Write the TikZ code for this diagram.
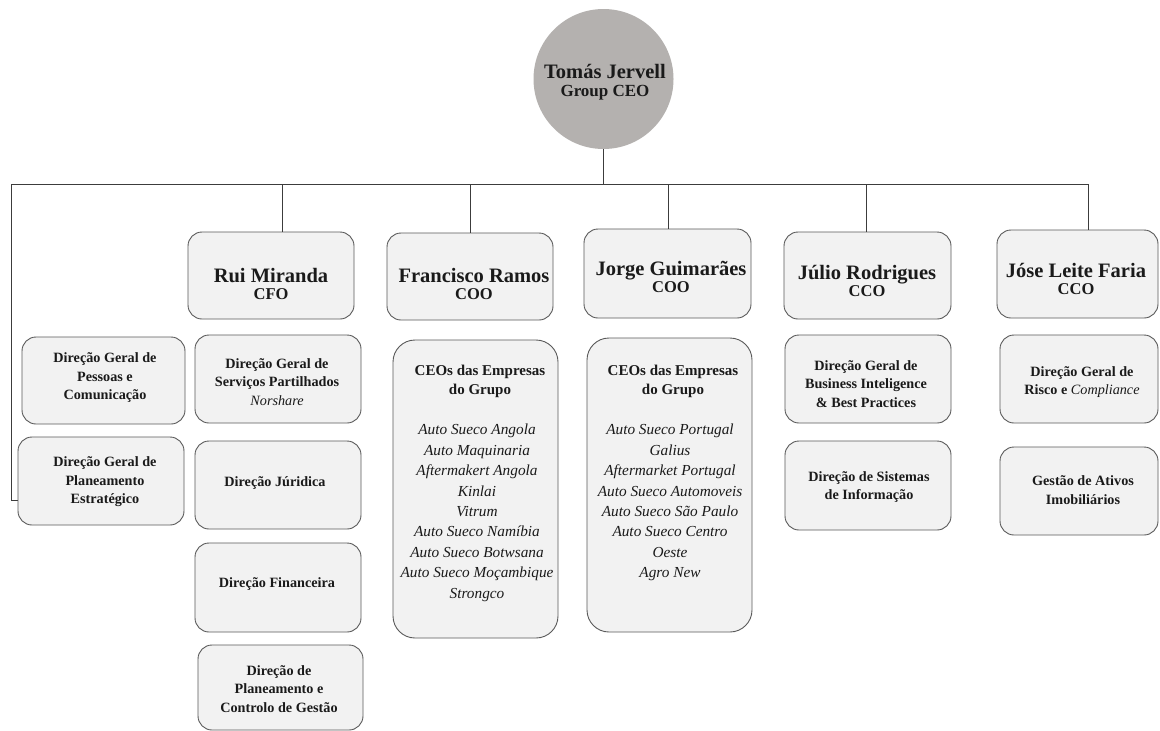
\documentclass[tikz,border=0pt]{standalone}
\usepackage{fontspec}
\setmainfont{Liberation Serif}
\definecolor{boxfill}{HTML}{F2F2F2}
\definecolor{boxline}{HTML}{5A5A5A}
\definecolor{circfill}{HTML}{B4B1AF}
\definecolor{wire}{HTML}{3C3C3C}
\definecolor{ink}{HTML}{1A1A1A}
\tikzset{
  orgbox/.style={draw=boxline, fill=boxfill, line width=0.9pt, rounded corners=14pt, inner sep=0pt},
  tallbox/.style={orgbox, rounded corners=22pt},
  ceocirc/.style={circle, draw=none, fill=circfill, minimum size=140pt, inner sep=0pt},
  ceotext/.style={align=center, inner sep=0pt, text=ink, font=\fontsize{20.5}{19}\selectfont\bfseries},
  mgrtext/.style={align=center, inner sep=0pt, text=ink, font=\fontsize{20.5}{16.5}\selectfont\bfseries},
  subtext/.style={align=center, inner sep=0pt, text=ink, font=\fontsize{14.2}{18.5}\selectfont\bfseries},
  headtext/.style={align=center, inner sep=0pt, anchor=north, text=ink, font=\fontsize{15}{19}\selectfont\bfseries},
  listtext/.style={align=center, inner sep=0pt, anchor=north, text=ink, font=\fontsize{15.3}{20.4}\selectfont\itshape},
  wireline/.style={draw=wire, line width=0.8pt},
}
\newcommand{\orgrect}[6][orgbox]{%
  \pgfmathsetmacro\rcx{(#3+#5)/2}%
  \pgfmathsetmacro\rcy{(#4+#6)/2}%
  \pgfmathsetmacro\rbw{#5-#3}%
  \pgfmathsetmacro\rbh{#6-#4}%
  \node[#1, minimum width=\rbw pt, minimum height=\rbh pt] (#2) at (\rcx,\rcy) {};}
\newcommand{\rolefont}{\fontsize{16.5}{16.5}\selectfont}
\begin{document}
\begin{tikzpicture}[x=1pt,y=-1pt]
\useasboundingbox[fill=white] (0,0) rectangle (1160,731);

% ---- top
\node[ceocirc] (ceo) at (603.5,79) {};
\node[ceotext] (ceoT) at (605,82) {Tomás Jervell\\[-1pt]{\fontsize{17}{17}\selectfont Group CEO}};

% ---- bus
\coordinate (busL) at (11,184);
\coordinate (busR) at (1089,184);
\coordinate (dRui) at (282,184);
\coordinate (dFra) at (470,184);
\coordinate (dJor) at (668,184);
\coordinate (dJul) at (866,184);
\coordinate (dJos) at (1088,184);
\coordinate (peIn) at (18,500);

% ---- manager boxes
\orgrect{rui}{188}{232}{354}{319}
\orgrect{fra}{387}{233}{553}{320}
\orgrect{jor}{584}{229}{751}{318}
\orgrect{jul}{784}{232}{951}{319}
\orgrect{jos}{997}{230}{1158}{318}

% ---- connectors
\draw[wireline] (ceo.south) -- (ceo.south |- busL);
\draw[wireline] (busL) -- (busR);
\draw[wireline] (busL) |- (peIn);
\draw[wireline] (dRui) -- (dRui |- rui.north);
\draw[wireline] (dFra) -- (dFra |- fra.north);
\draw[wireline] (dJor) -- (dJor |- jor.north);
\draw[wireline] (dJul) -- (dJul |- jul.north);
\draw[wireline] (dJos) -- (dJos |- jos.north);

\node[mgrtext] (ruiT) at (271,284) {Rui Miranda\\{\rolefont CFO}};
\node[mgrtext] (fraT) at (474,284) {Francisco Ramos\\{\rolefont COO}};
\node[mgrtext] (jorT) at (671,277) {Jorge Guimarães\\{\rolefont COO}};
\node[mgrtext] (julT) at (867,281) {Júlio Rodrigues\\{\rolefont CCO}};
\node[mgrtext] (josT) at (1076,279) {Jóse Leite Faria\\{\rolefont CCO}};

% ---- left column
\orgrect{pc}{22}{337}{185}{424}
\orgrect{pe}{18}{437}{184}{525}
\node[subtext] (pcT) at (105,378) {Direção Geral de\\Pessoas e\\Comunicação};
\node[subtext] (peT) at (105,482) {Direção Geral de\\Planeamento\\Estratégico};

% ---- Rui column
\orgrect{ns}{195}{335}{361}{423}
\orgrect{dj}{195}{441}{361}{529}
\orgrect{df}{195}{543}{361}{632}
\orgrect{dp}{198}{645}{363}{730}
\node[subtext] (nsT) at (277,382) {Direção Geral de\\Serviços Partilhados\\{\normalfont\itshape Norshare}};
\node[subtext] (djT) at (275,483) {Direção Júridica};
\node[subtext] (dfT) at (277,584) {Direção Financeira};
\node[subtext] (dpT) at (279,689) {Direção de\\Planeamento e\\Controlo de Gestão};

% ---- CEO lists
\orgrect[tallbox]{fc}{393}{340}{558}{638}
\orgrect[tallbox]{jc}{587}{338}{752}{632}
\node[headtext] (fcH) at (480,365) {CEOs das Empresas\\do Grupo};
\node[listtext] (fcL) at (477,424) {Auto Sueco Angola\\Auto Maquinaria\\Aftermakert Angola\\Kinlai\\Vitrum\\Auto Sueco Namíbia\\Auto Sueco Botwsana\\Auto Sueco Moçambique\\Strongco};
\node[headtext] (jcH) at (673,365) {CEOs das Empresas\\do Grupo};
\node[listtext] (jcL) at (670,424) {Auto Sueco Portugal\\Galius\\Aftermarket Portugal\\Auto Sueco Automoveis\\Auto Sueco São Paulo\\Auto Sueco Centro\\Oeste\\Agro New};

% ---- Júlio column
\orgrect{bi}{785}{335}{951}{423}
\orgrect{si}{785}{441}{951}{530}
\node[subtext] (biT) at (866,384) {Direção Geral de\\Business Inteligence\\\& Best Practices};
\node[subtext] (siT) at (869,487) {Direção de Sistemas\\de Informação};

% ---- José column
\orgrect{rc}{1000}{335}{1158}{423}
\orgrect{ga}{1000}{447}{1158}{535}
\node[subtext] (rcT) at (1082,382) {Direção Geral de\\Risco e {\normalfont\itshape Compliance}};
\node[subtext] (gaT) at (1083,490) {Gestão de Ativos\\Imobiliários};
\end{tikzpicture}
\end{document}
